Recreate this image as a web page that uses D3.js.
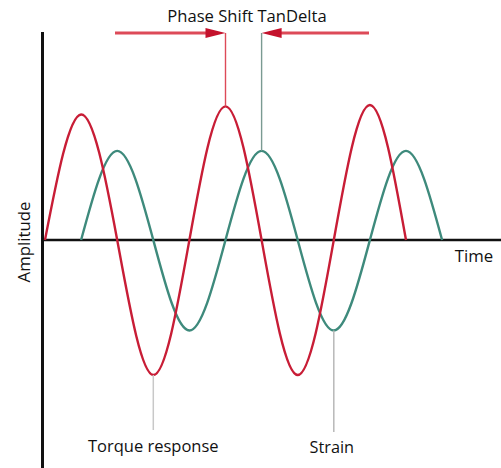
<!DOCTYPE html>
<html>
<head>
<meta charset="utf-8">
<script src="https://cdn.jsdelivr.net/npm/d3@7"></script>
<style>
  html, body { margin: 0; padding: 0; background: #fff; }
  svg { display: block; }
  text { font-family: "Open Sans", "Noto Sans", sans-serif; fill: #111; }
</style>
</head>
<body>
<svg id="chart" width="501" height="468"></svg>
<script>
// Phase angle (degrees) at each zero crossing / extremum of the two waves
const torqueTime = [0, 90, 180, 270, 360, 450, 540, 630, 720, 810, 900];
const torqueAmp  = [0, 0.93, 0, -1.0, 0, 0.99, 0, -1.0, 0, 1.0, 0];
const strainTime = [90, 180, 270, 360, 450, 540, 630, 720, 810, 900, 990];
const strainAmp  = [0, 0.66, 0, -0.67, 0, 0.66, 0, -0.67, 0, 0.66, 0];

// Text labels
const titleText = "Phase Shift TanDelta";
const xLabel = "Time";
const yLabel = "Amplitude";
const torqueLabel = "Torque response";
const strainLabel = "Strain";

// Indices of the extrema picked out by the annotations
const torquePeakIdx = 5, torqueTroughIdx = 3;
const strainPeakIdx = 5, strainTroughIdx = 7;

const svg = d3.select("#chart");
const W = 501, H = 468;

const x = d3.scaleLinear().domain([0, 900]).range([45, 406]);
const y = d3.scaleLinear().domain([-1, 1]).range([375, 105]);

const red = "#c81d36", redLight = "#dd4a58", green = "#3e8a7c";

const torque = torqueTime.map((t, i) => [t, torqueAmp[i]]);
const strain = strainTime.map((t, i) => [t, strainAmp[i]]);

const line = d3.line().x(d => x(d[0])).y(d => y(d[1])).curve(d3.curveNatural);

// Axes frame
const axisX0 = 42.5;
svg.append("line").attr("x1", axisX0).attr("x2", axisX0).attr("y1", 32).attr("y2", H)
  .attr("stroke", "#111").attr("stroke-width", 3);
svg.append("line").attr("x1", axisX0).attr("x2", W).attr("y1", y(0)).attr("y2", y(0))
  .attr("stroke", "#111").attr("stroke-width", 2.5);

// Waves
svg.append("path").attr("d", line(strain)).attr("fill", "none")
  .attr("stroke", green).attr("stroke-width", 2.4);
svg.append("path").attr("d", line(torque)).attr("fill", "none")
  .attr("stroke", red).attr("stroke-width", 2.4);

// Annotation leaders
const arrowY = 33;
const tp = torque[torquePeakIdx], sp = strain[strainPeakIdx];
const tt = torque[torqueTroughIdx], st = strain[strainTroughIdx];

svg.append("line").attr("x1", x(tp[0])).attr("x2", x(tp[0]))
  .attr("y1", arrowY).attr("y2", y(tp[1]))
  .attr("stroke", redLight).attr("stroke-width", 1.4);
svg.append("line").attr("x1", x(sp[0])).attr("x2", x(sp[0]))
  .attr("y1", arrowY).attr("y2", y(sp[1]))
  .attr("stroke", "#7a9a92").attr("stroke-width", 1.4);
svg.append("line").attr("x1", x(tt[0])).attr("x2", x(tt[0]))
  .attr("y1", y(tt[1])).attr("y2", 430)
  .attr("stroke", "#c8c8c8").attr("stroke-width", 1.5);
svg.append("line").attr("x1", x(st[0])).attr("x2", x(st[0]))
  .attr("y1", y(st[1])).attr("y2", 432)
  .attr("stroke", "#b8b8b8").attr("stroke-width", 1.5);

// Arrows pointing at the two peaks
function arrow(fromX, tipX) {
  const dir = Math.sign(tipX - fromX);
  const headLen = 20, headHalf = 5;
  svg.append("line").attr("x1", fromX).attr("x2", tipX - dir * headLen * 0.6)
    .attr("y1", arrowY).attr("y2", arrowY)
    .attr("stroke", redLight).attr("stroke-width", 3);
  svg.append("path")
    .attr("d", `M${tipX},${arrowY} L${tipX - dir * headLen},${arrowY - headHalf} L${tipX - dir * headLen},${arrowY + headHalf} Z`)
    .attr("fill", "#c4122c");
}
arrow(115, x(tp[0]));
arrow(369, x(sp[0]));

// Text
svg.append("text").attr("x", 247).attr("y", 22).attr("text-anchor", "middle")
  .attr("font-size", 16.6).text(titleText);
svg.append("text").attr("x", 474).attr("y", 262).attr("text-anchor", "middle")
  .attr("font-size", 16.8).text(xLabel);
svg.append("text").attr("transform", "translate(30,242) rotate(-90)")
  .attr("text-anchor", "middle").attr("font-size", 16.8).text(yLabel);
svg.append("text").attr("x", x(tt[0])).attr("y", 452).attr("text-anchor", "middle")
  .attr("font-size", 16.5).text(torqueLabel);
svg.append("text").attr("x", x(st[0]) - 2).attr("y", 453).attr("text-anchor", "middle")
  .attr("font-size", 16.3).text(strainLabel);
</script>
</body>
</html>
